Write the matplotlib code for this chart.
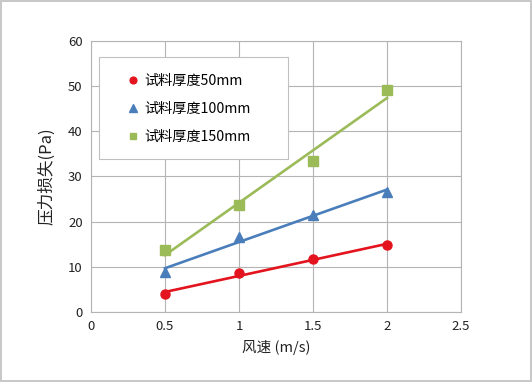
import matplotlib.pyplot as plt
from matplotlib.patches import Rectangle
import numpy as np

plt.rcParams['font.family'] = ['Noto Sans CJK SC', 'DejaVu Sans']

# wind speed (m/s)
speed = [0.5, 1.0, 1.5, 2.0]

# pressure loss (Pa) for each sample thickness
loss_50 = [4.0, 8.6, 11.7, 14.8]
loss_100 = [8.9, 16.6, 21.5, 26.6]
loss_150 = [13.7, 23.7, 33.4, 49.1]

labels = ['试料厚度50mm', '试料厚度100mm', '试料厚度150mm']
colors = ['#e3141d', '#4a7ebb', '#9bbb59']
markers = ['o', '^', 's']
msizes = [6.5, 7.5, 6.5]

fig = plt.figure(figsize=(5.32, 3.82), dpi=100)
fig.patch.set_edgecolor('#c8c8c8')
fig.patch.set_linewidth(1.5)
ax = fig.add_axes([0.171, 0.183, 0.6955, 0.710])

x = np.array(speed)
for y, lab, c, m, ms in zip([loss_50, loss_100, loss_150], labels, colors, markers, msizes):
    # linear trend line
    k, b = np.polyfit(x, y, 1)
    ax.plot(x, k * x + b, color=c, lw=1.9, zorder=3)
    ax.plot(x, y, linestyle='none', marker=m, ms=ms, color=c, label=lab, zorder=4)

ax.set_xlim(0, 2.5)
ax.set_ylim(0, 60)
ax.set_xticks([0, 0.5, 1, 1.5, 2, 2.5])
ax.set_xticklabels(['0', '0.5', '1', '1.5', '2', '2.5'])
ax.set_yticks(range(0, 61, 10))
ax.grid(True, color='#b4b4b4', lw=0.8)
ax.set_axisbelow(True)
for s in ax.spines.values():
    s.set_color('#b4b4b4')
    s.set_linewidth(0.8)
ax.tick_params(length=0, labelsize=9.5, colors='#222222', pad=6)

ax.set_xlabel('风速 (m/s)', fontsize=10.5, color='#222222', labelpad=5)
ax.set_ylabel('压力损失(Pa)', fontsize=12, color='#222222', labelpad=9)

# legend box drawn separately, entries placed inside it
ax.add_patch(Rectangle((0.022, 0.565), 0.511, 0.376, transform=ax.transAxes,
                       facecolor='white', edgecolor='#c0c0c0', lw=0.8, zorder=5))
leg = ax.legend(loc='center left', bbox_to_anchor=(0.0946, 0.749), fontsize=10.2,
                frameon=False, labelspacing=1.0, handlelength=1.0, handletextpad=0.3,
                borderpad=0, borderaxespad=0, markerscale=0.75)
leg.set_zorder(6)

plt.savefig('out.png', dpi=100)
